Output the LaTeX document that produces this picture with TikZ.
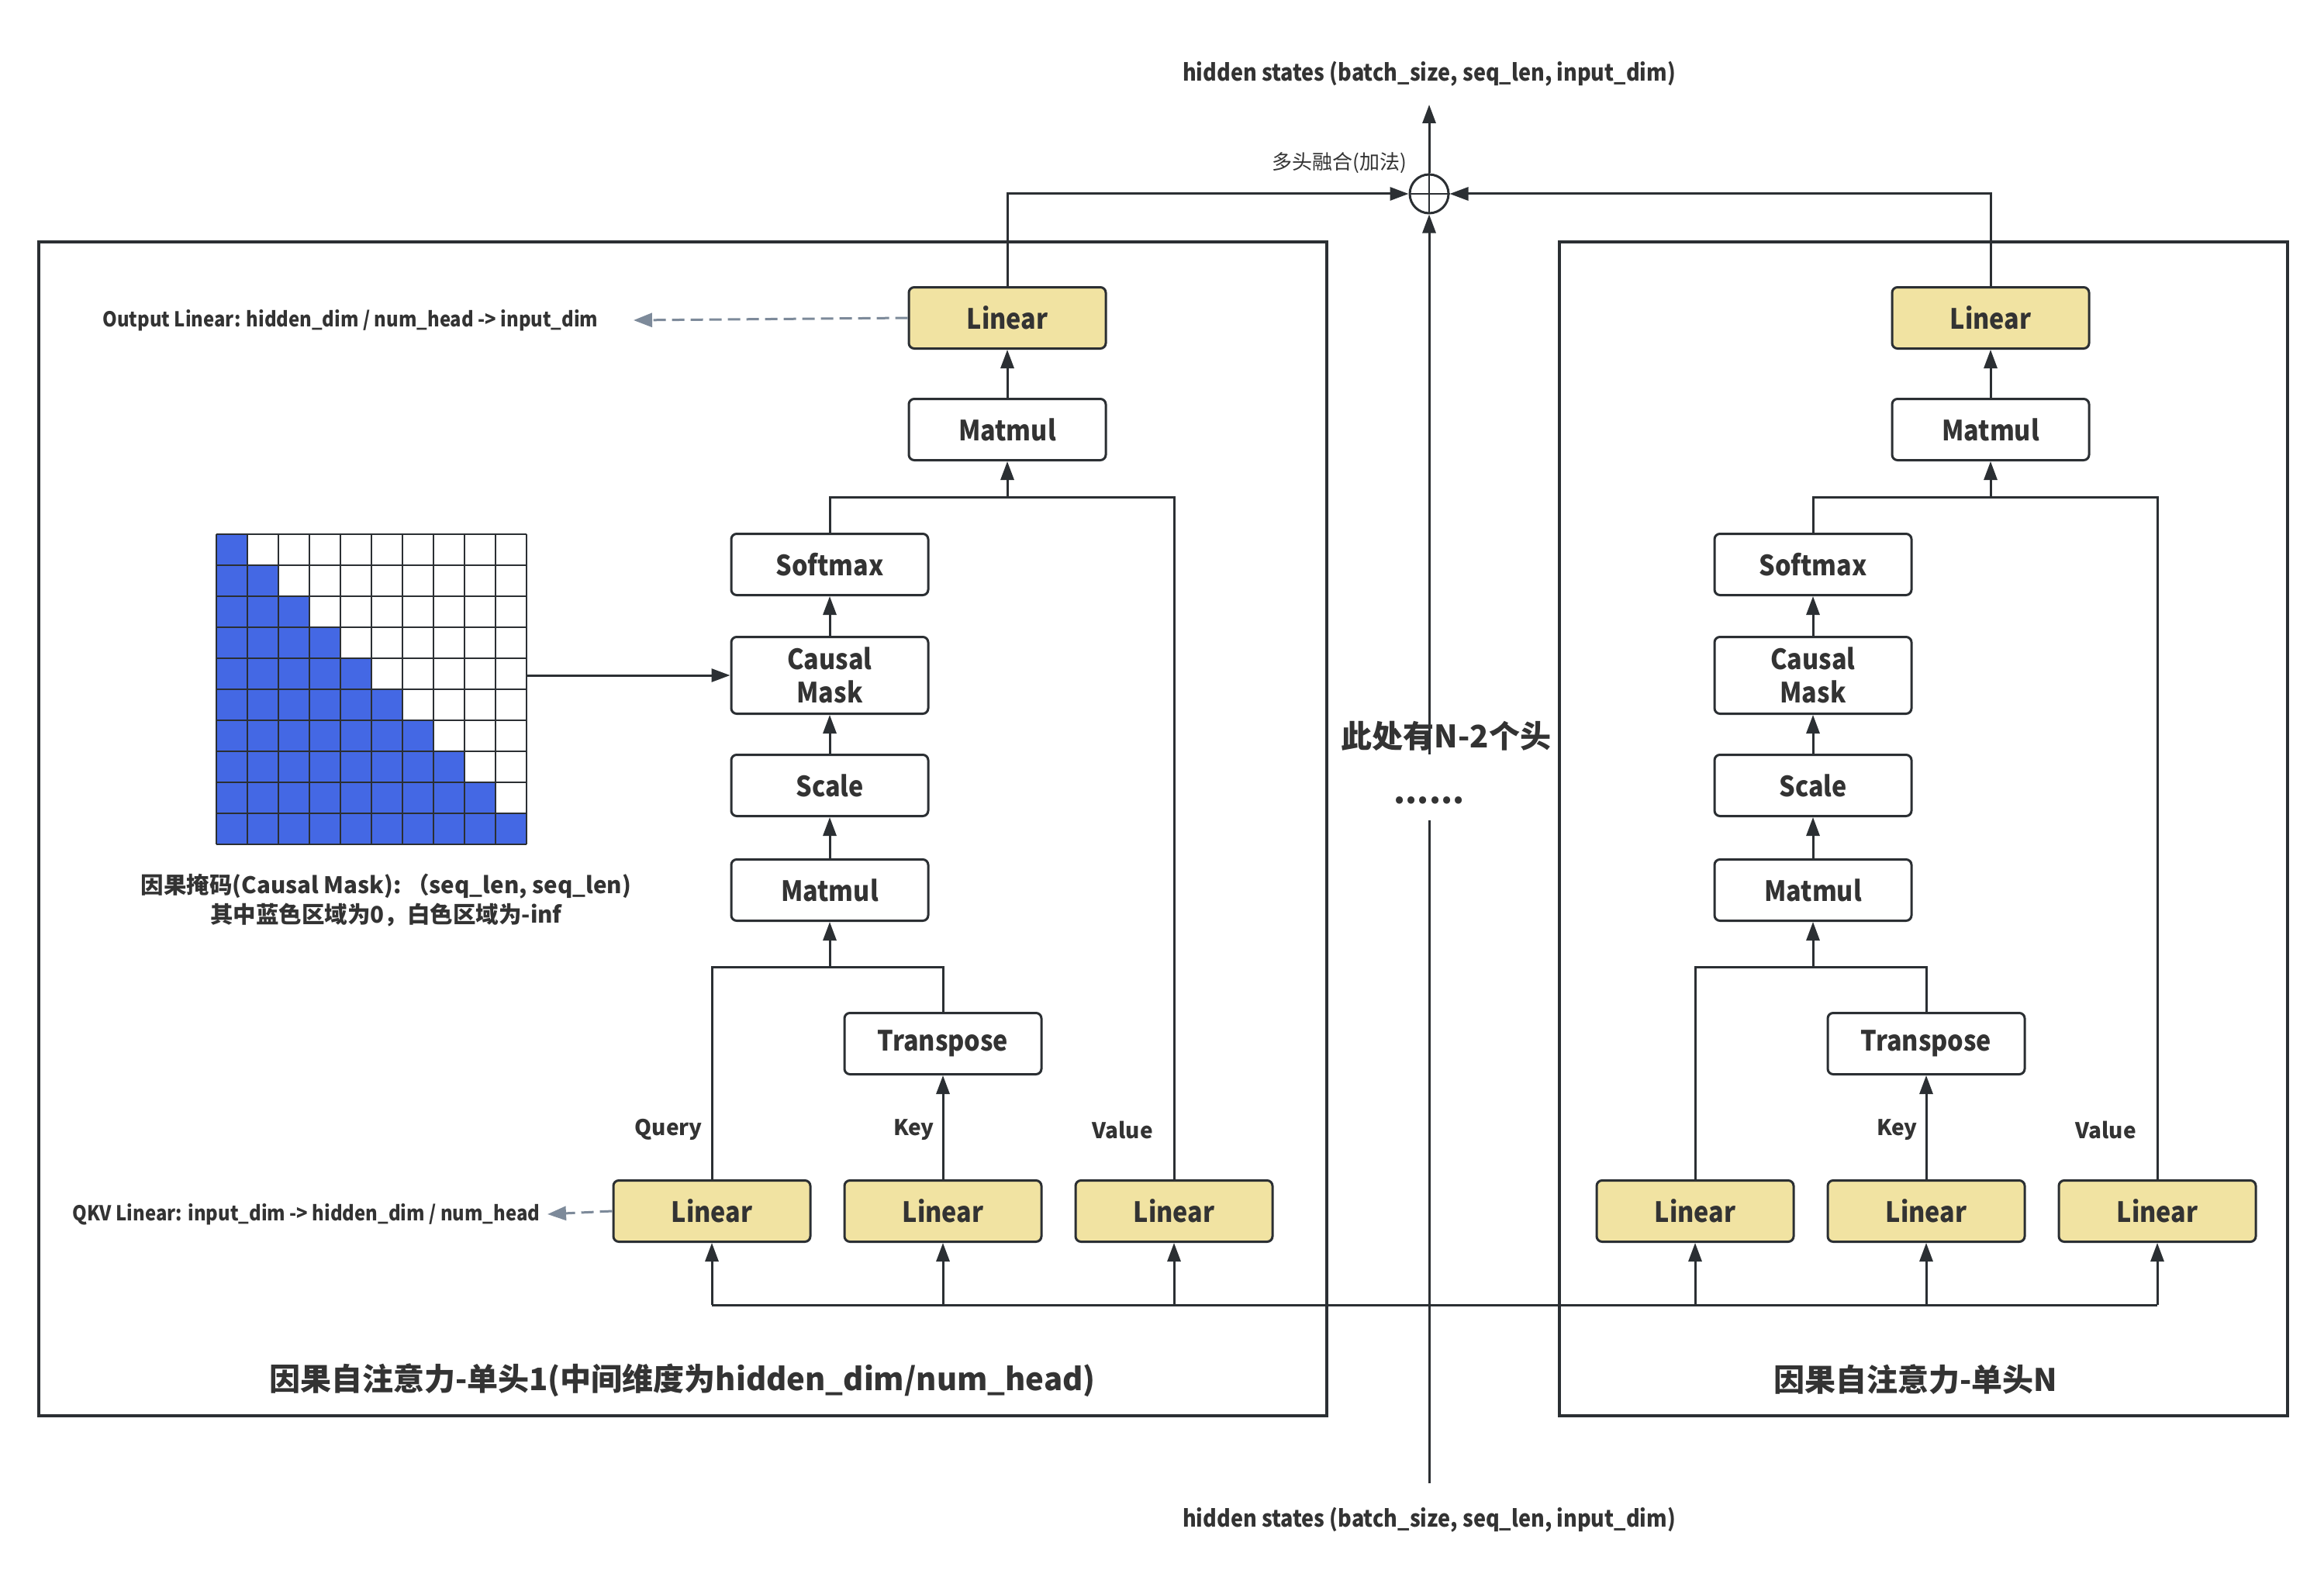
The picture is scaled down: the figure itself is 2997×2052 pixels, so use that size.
\documentclass[tikz,border=0pt]{standalone}
\usepackage{fontspec}
\setmainfont{Noto Sans CJK SC}
\newfontfamily\cond{Noto Sans CJK SC}[FakeStretch=0.9]
\usetikzlibrary{arrows.meta,calc}
\definecolor{linec}{HTML}{2B2F33}
\definecolor{textc}{HTML}{333333}
\definecolor{yel}{HTML}{F1E3A2}
\definecolor{maskblue}{HTML}{4468E4}
\definecolor{dashc}{HTML}{7D8A9A}
\tikzset{
 opbox/.style={draw=linec, line width=3pt, rounded corners=7pt, minimum width=254pt, minimum height=79pt, fill=white, text=textc, font=\cond\fontsize{36pt}{43pt}\selectfont\bfseries, inner sep=0pt, align=center},
 linbox/.style={opbox, fill=yel},
 conn/.style={draw=linec, line width=3pt},
 arr/.style={conn, -{Triangle[length=24pt,width=17pt]}},
 dasharr/.style={draw=dashc, line width=3pt, dash pattern=on 16pt off 8pt, -{Triangle[length=24pt,width=18pt]}},
 lbl/.style={text=textc, font=\fontsize{28pt}{34pt}\selectfont\bfseries, inner sep=0pt},
 note/.style={text=textc, font=\cond\fontsize{26.5pt}{32pt}\selectfont\bfseries, inner sep=0pt},
 hstext/.style={text=textc, font=\cond\fontsize{30pt}{36pt}\selectfont\bfseries, inner sep=0pt},
 headframe/.style={draw=linec, line width=4pt, inner sep=0pt},
 title/.style={text=textc, font=\fontsize{40pt}{48pt}\selectfont\bfseries, inner sep=0pt},
 gridc/.style={draw=linec, line width=2.5pt},
}
\begin{document}
\begin{tikzpicture}[x=1pt,y=-1pt]
\useasboundingbox (0,0) rectangle (2997,2052);
% frames
\node[headframe, minimum width=1661pt, minimum height=1514pt] (head1) at (880.5,1069) {};
\node[headframe, minimum width=939pt, minimum height=1514pt] (headN) at (2480.5,1069) {};
\node[title] (t1) at (880,1780) {因果自注意力-单头1(中间维度为hidden\_dim/num\_head)};
\node[title] (tN) at (2470,1779) {因果自注意力-单头N};

% heads
\foreach \o/\s in {0/a,1268/b}{
 \node[linbox] (out\s) at ({1299+\o},410) {Linear};
 \node[opbox] (mmb\s) at ({1299+\o},554) {Matmul};
 \node[opbox] (soft\s) at ({1070+\o},728) {Softmax};
 \node[opbox, minimum height=99pt] (cm\s) at ({1070+\o},871) {Causal\\Mask};
 \node[opbox] (sc\s) at ({1070+\o},1013) {Scale};
 \node[opbox] (mma\s) at ({1070+\o},1148) {Matmul};
 \node[opbox] (tr\s) at ({1216+\o},1346) {Transpose};
 \node[linbox] (q\s) at ({918+\o},1562) {Linear};
 \node[linbox] (k\s) at ({1216+\o},1562) {Linear};
 \node[linbox] (v\s) at ({1514+\o},1562) {Linear};
 \coordinate (jqk\s) at ({1070+\o},1247);
 \coordinate (jsv\s) at ({1299+\o},641);
 \draw[conn] (q\s.north) |- (jqk\s) -| (tr\s.north);
 \draw[arr] (jqk\s) -- (mma\s.south);
 \draw[arr] (mma\s.north) -- (sc\s.south);
 \draw[arr] (sc\s.north) -- (cm\s.south);
 \draw[arr] (cm\s.north) -- (soft\s.south);
 \draw[conn] (soft\s.north) |- (jsv\s) -| (v\s.north);
 \draw[arr] (jsv\s) -- (mmb\s.south);
 \draw[arr] (mmb\s.north) -- (out\s.south);
 \draw[arr] (k\s.north) -- (tr\s.south);
 \node[lbl, anchor=east] (key\s) at ({1205+\o},1457) {Key};
 \node[lbl, anchor=east] (val\s) at ({1487+\o},1457) {Value};
}
\node[lbl, anchor=east] (qlab) at (906,1457) {Query};

% input bus
\coordinate (busL) at (918,1683);
\coordinate (busR) at (2782,1683);
\draw[conn] (busL) -- (busR);
\foreach \s in {a,b}{
 \draw[arr] (q\s.south |- busL) -- (q\s.south);
 \draw[arr] (k\s.south |- busL) -- (k\s.south);
 \draw[arr] (v\s.south |- busL) -- (v\s.south);
}

% sum
\node[circle, draw=linec, line width=3pt, minimum size=50pt, inner sep=0pt, fill=white] (sum) at (1843,250) {};
\draw[conn, line width=2.5pt] (sum.north) -- (sum.south) (sum.west) -- (sum.east);
\draw[arr] (outa.north) |- (sum.west);
\draw[arr] (outb.north) |- (sum.east);
\coordinate (outtop) at (1843,135);
\draw[arr] (sum.north) -- (outtop);
\node[hstext] (hsout) at (1843,95) {hidden states (batch\_size, seq\_len, input\_dim)};
\node[text=textc, font=\fontsize{26pt}{32pt}\selectfont, inner sep=0pt] (fuse) at (1727,210) {多头融合(加法)};

\coordinate (intail) at (1843,1913);
\draw[arr] (intail) -- (sum.south);
\node[hstext] (hsin) at (1843,1960) {hidden states (batch\_size, seq\_len, input\_dim)};
\node[fill=white, minimum width=110pt, minimum height=85pt, inner sep=0pt, text=textc, font=\fontsize{43pt}{50pt}\selectfont\bfseries] (dots) at (1843,1015) {\raisebox{-44pt}{......}};
\node[title] (nminus) at (1865,949) {此处有N-2个头};

% mask grid
\node[minimum size=401pt, inner sep=0pt] (mask) at (479.5,889) {};
\foreach \i in {0,...,9}{
 \foreach \j in {0,...,\i}{
  \fill[maskblue] ({279+40*\j},{689+40*\i}) rectangle ++(40,40);
 }
}
\foreach \k in {0,...,10}{
 \draw[gridc] ({279+40*\k},689) -- ({279+40*\k},1089);
 \draw[gridc] (279,{689+40*\k}) -- (679,{689+40*\k});
}
\draw[arr] (mask.east |- cma) -- (cma.west);
\node[lbl, align=center, font=\fontsize{29.5pt}{38pt}\selectfont\bfseries] (cap) at (498,1161) {因果掩码(Causal Mask):\ （seq\_len, seq\_len)\\其中蓝色区域为0，白色区域为-inf};

% annotations
\node[note] (outnote) at (452,413) {Output Linear: hidden\_dim / num\_head -> input\_dim};
\coordinate (outtip) at (817,413);
\draw[dasharr] (outa.west) -- (outtip);
\node[note] (qkvnote) at (395,1566) {QKV Linear: input\_dim -> hidden\_dim / num\_head};
\coordinate (qkvtip) at (706,1566);
\draw[dasharr] (qa.west) -- (qkvtip);
\end{tikzpicture}
\end{document}
